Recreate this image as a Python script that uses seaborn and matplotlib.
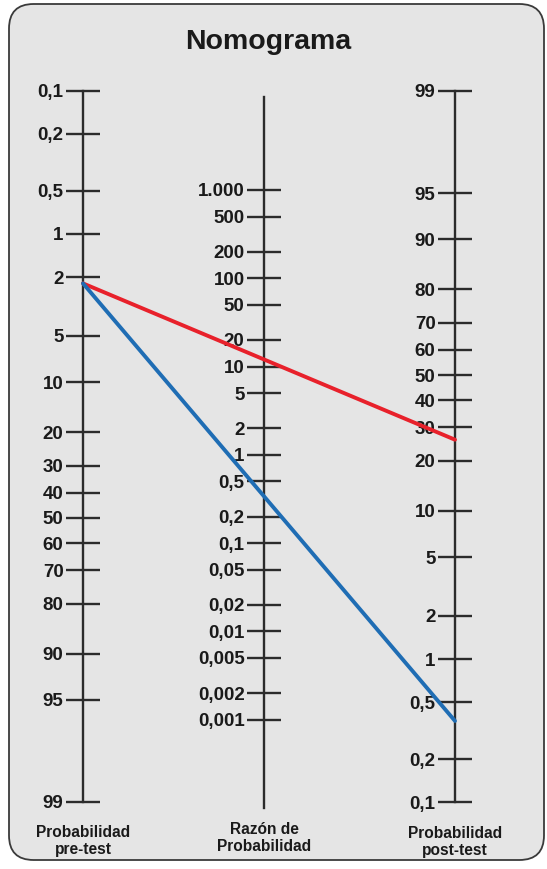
import numpy as np
import pandas as pd
import matplotlib
matplotlib.use('Agg')
import matplotlib.pyplot as plt
import seaborn as sns
from matplotlib.patches import FancyBboxPatch, ConnectionPatch
from matplotlib.ticker import FixedLocator, FixedFormatter, NullLocator

# valores de las tres escalas (en %)
pre_ticks = [0.1, 0.2, 0.5, 1, 2, 5, 10, 20, 30, 40, 50, 60, 70, 80, 90, 95, 99]
pre_labels = ['0,1', '0,2', '0,5', '1', '2', '5', '10', '20', '30', '40', '50',
              '60', '70', '80', '90', '95', '99']
lr_ticks = [1000, 500, 200, 100, 50, 20, 10, 5, 2, 1, 0.5, 0.2, 0.1, 0.05, 0.02,
            0.01, 0.005, 0.002, 0.001]
lr_labels = ['1.000', '500', '200', '100', '50', '20', '10', '5', '2', '1', '0,5',
             '0,2', '0,1', '0,05', '0,02', '0,01', '0,005', '0,002', '0,001']
post_ticks = [99, 95, 90, 80, 70, 60, 50, 40, 30, 20, 10, 5, 2, 1, 0.5, 0.2, 0.1]
post_labels = ['99', '95', '90', '80', '70', '60', '50', '40', '30', '20', '10',
               '5', '2', '1', '0,5', '0,2', '0,1']

# rectas del ejemplo: prob. pre-test -> prob. post-test
pretest = 2.2
post_red = 26
post_blue = 0.37

sns.set_style('white')
plt.rcParams['font.family'] = ['Liberation Sans', 'DejaVu Sans']
plt.rcParams['font.weight'] = 'bold'

fig = plt.figure(figsize=(5.47, 8.69), dpi=100)
fig.patch.set_facecolor('white')

# fondo redondeado
box = FancyBboxPatch((9 / 547, 9 / 869), 535 / 547, 856 / 869,
                     boxstyle='round,pad=0,rounding_size=0.045',
                     transform=fig.transFigure, facecolor='#e5e5e5',
                     edgecolor='#3a3a3a', linewidth=1.3, zorder=-5,
                     mutation_aspect=547 / 869)
fig.add_artist(box)

fig.text(268 / 547, 1 - 49 / 869, 'Nomograma', ha='center', va='baseline',
         fontsize=20.5, fontweight='bold', color='#1a1a1a')

ink = '#2b2b2b'


def make_axis(x, y0, y1):
    ax = fig.add_axes([x / 547, 1 - y1 / 869, 0.001, (y1 - y0) / 869])
    ax.set_facecolor('none')
    sns.despine(ax=ax, left=False, right=True, top=True, bottom=True)
    ax.spines['left'].set_linewidth(1.7)
    ax.spines['left'].set_color(ink)
    ax.set_xticks([])
    ax.tick_params(axis='y', left=True, direction='inout', length=25, width=1.7,
                   color=ink, labelsize=13.5, labelcolor='#1a1a1a', pad=1.5)
    return ax


ax_pre = make_axis(83, 91, 802)
ax_pre.set_yscale('logit')
ax_pre.set_ylim(0.99, 0.001)
ax_pre.yaxis.set_major_locator(FixedLocator(np.array(pre_ticks) / 100))
ax_pre.yaxis.set_major_formatter(FixedFormatter(pre_labels))

ax_lr = make_axis(264, 97, 808)
ax_lr.set_yscale('log')
ax_lr.set_ylim(1.0e-4, 1.13e4)
ax_lr.yaxis.set_major_locator(FixedLocator(lr_ticks))
ax_lr.yaxis.set_major_formatter(FixedFormatter(lr_labels))

ax_post = make_axis(455, 91, 802)
ax_post.set_yscale('logit')
ax_post.set_ylim(0.001, 0.99)
ax_post.yaxis.set_major_locator(FixedLocator(np.array(post_ticks) / 100))
ax_post.yaxis.set_major_formatter(FixedFormatter(post_labels))

for ax in (ax_pre, ax_lr, ax_post):
    ax.yaxis.set_minor_locator(NullLocator())
    for t in ax.get_yticklabels():
        t.set_fontweight('bold')

# rectas del nomograma
for post, col in [(post_red, '#e8212b'), (post_blue, '#1f6db4')]:
    con = ConnectionPatch(xyA=(0, pretest / 100), coordsA=ax_pre.transData,
                          xyB=(0, post / 100), coordsB=ax_post.transData,
                          color=col, linewidth=2.8, zorder=3)
    fig.add_artist(con)

# rótulos inferiores
for x, yc, txt in [(83, 841, 'Probabilidad\npre-test'),
                   (264, 838, 'Razón de\nProbabilidad'),
                   (455, 842, 'Probabilidad\npost-test')]:
    fig.text(x / 547, 1 - yc / 869, txt, ha='center', va='center',
             fontsize=11.2, fontweight='bold', color='#1a1a1a', linespacing=1.1)

fig.savefig('out.png', dpi=100)
